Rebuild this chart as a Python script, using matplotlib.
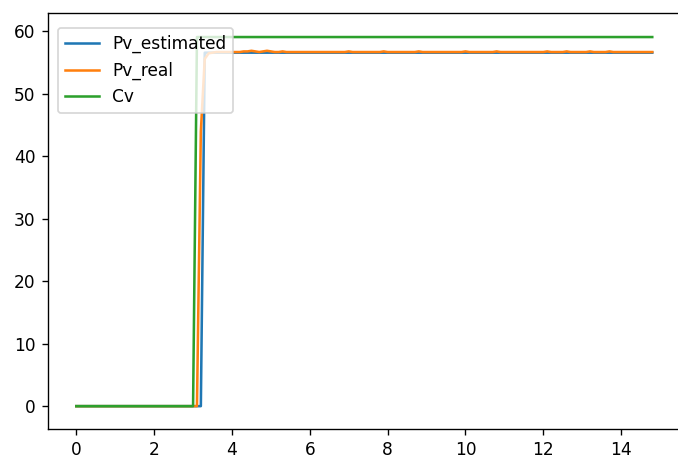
import matplotlib
matplotlib.use("Agg")
import matplotlib.pyplot as plt

# time axis, 0.1 s steps up to 14.8 s
t = [round(0.1 * i, 1) for i in range(149)]

# set point: 0 until 3.0 s, then 59.1
cv = [0.0] * 31 + [59.1] * 118

# estimated process value
pv_estimated = [0.0] * 33 + [56.6] * 116

# real process value (small noise after the rise)
pv_real_rise = [44.0, 55.6, 56.5]
pv_real_tail = [
    56.6, 56.7, 56.7, 56.7, 56.7, 56.7, 56.7, 56.7, 56.8, 56.8,
    56.9, 56.8, 56.7, 56.8, 56.9, 56.8, 56.7, 56.7, 56.8, 56.7,
    56.7, 56.7, 56.7, 56.7, 56.7, 56.7, 56.7, 56.7, 56.7, 56.7,
    56.7, 56.7, 56.7, 56.7, 56.7, 56.8, 56.7, 56.7, 56.7, 56.7,
    56.7, 56.7, 56.7, 56.7, 56.8, 56.7, 56.7, 56.7, 56.7, 56.7,
    56.7, 56.7, 56.7, 56.8, 56.7, 56.7, 56.7, 56.7, 56.7, 56.7,
    56.7, 56.7, 56.7, 56.7, 56.7, 56.8, 56.7, 56.7, 56.7, 56.7,
    56.7, 56.7, 56.7, 56.8, 56.7, 56.7, 56.7, 56.7, 56.7, 56.7,
    56.7, 56.7, 56.7, 56.7, 56.7, 56.7, 56.8, 56.7, 56.7, 56.7,
    56.7, 56.8, 56.7, 56.7, 56.7, 56.7, 56.7, 56.8, 56.7, 56.7,
    56.7, 56.7, 56.8, 56.7, 56.7, 56.7, 56.7, 56.7, 56.7, 56.7,
    56.7, 56.7, 56.7, 56.7,
]
pv_real = [0.0] * 32 + pv_real_rise + pv_real_tail

dpi = 122
fig = plt.figure(figsize=(678 / dpi, 456 / dpi), dpi=dpi)
# axes extend slightly past the right edge, like the cropped screenshot
ax = fig.add_axes([0.0701, 0.0600, 0.9344, 0.9108])

ax.plot(t, pv_estimated, label="Pv_estimated")
ax.plot(t, pv_real, label="Pv_real")
ax.plot(t, cv, label="Cv")

ax.set_xlim(-0.74, 15.54)
ax.set_ylim(-3.6, 62.9)
ax.set_xticks([0, 2, 4, 6, 8, 10, 12, 14])

ax.legend(loc="upper left", bbox_to_anchor=(0.0166, 0.9646), borderaxespad=0)

fig.savefig("out.png", dpi=dpi)
